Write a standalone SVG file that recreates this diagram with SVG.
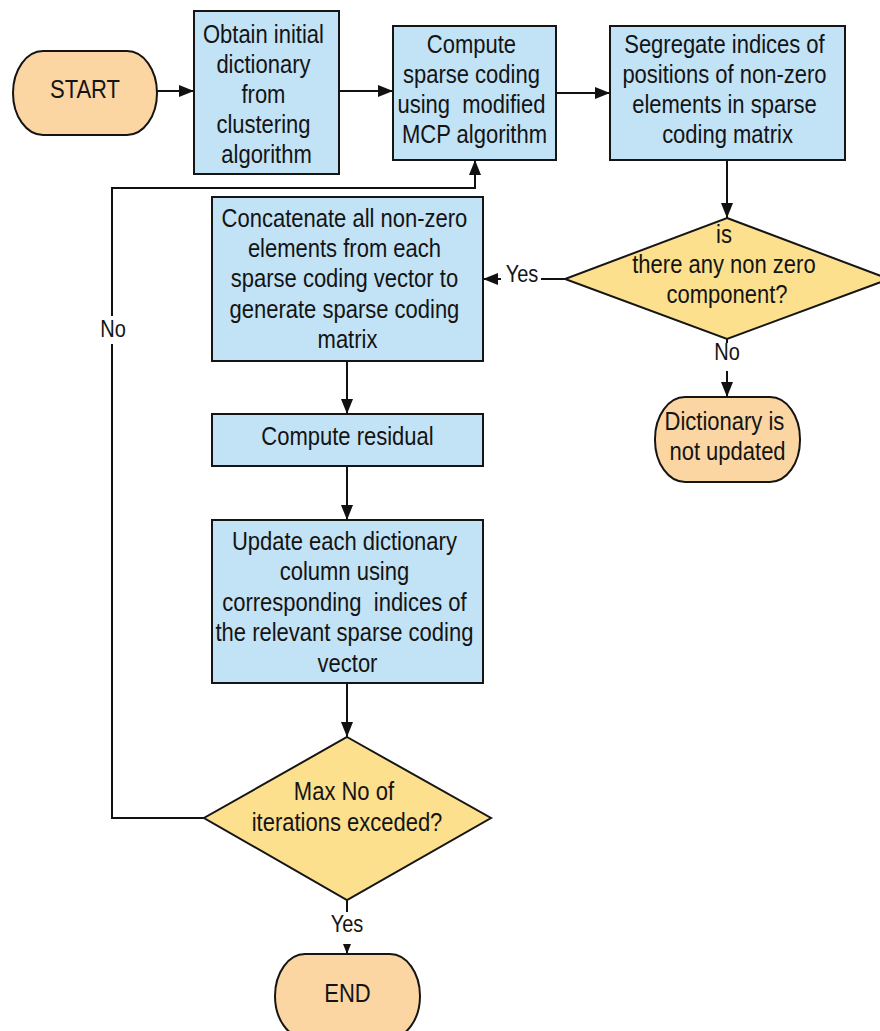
<svg xmlns="http://www.w3.org/2000/svg" width="880" height="1031" viewBox="0 0 880 1031">
  <defs>
    <marker id="arrow" viewBox="0 0 15 12" refX="15" refY="6" markerWidth="15" markerHeight="12" markerUnits="userSpaceOnUse" orient="auto">
      <path d="M0,0 L15,6 L0,12 Z" fill="#111"/>
    </marker>
    <style>
      .proc { fill: #c2e2f6; stroke: #151515; stroke-width: 2; }
      .term { fill: #fcd6a2; stroke: #151515; stroke-width: 2; }
      .dec  { fill: #fce08e; stroke: #151515; stroke-width: 2; }
      .edge { fill: none; stroke: #111; stroke-width: 2; }
      .lbg  { fill: #ffffff; }
      text  { font-family: "Liberation Sans", Arial, sans-serif; font-size: 22px; fill: #141414; text-anchor: middle; }
      .lbl  { font-size: 20px; }
    </style>
  </defs>

  <rect width="880" height="1031" fill="#ffffff"/>

  <!-- connectors -->
  <g id="connectors">
    <path class="edge" d="M157,91 L194,91" marker-end="url(#arrow)"/>
    <path class="edge" d="M339,91 L393,91" marker-end="url(#arrow)"/>
    <path class="edge" d="M556,93 L610,93" marker-end="url(#arrow)"/>
    <path class="edge" d="M727,160 L727,218" marker-end="url(#arrow)"/>
    <path class="edge" d="M565,279 L483,279" marker-end="url(#arrow)"/>
    <path class="edge" d="M727,339 L727,397" marker-end="url(#arrow)"/>
    <path class="edge" d="M347,361 L347,414" marker-end="url(#arrow)"/>
    <path class="edge" d="M347,466 L347,520" marker-end="url(#arrow)"/>
    <path class="edge" d="M347,683 L347,737" marker-end="url(#arrow)"/>
    <path class="edge" d="M204,818 L112,818 L112,188 L475,188 L475,160" marker-end="url(#arrow)"/>
    <path class="edge" d="M347,900 L347,954" marker-end="url(#arrow)"/>

    <!-- edge labels -->
    <rect class="lbg" x="501" y="262" width="40" height="28"/>
    <text class="lbl" transform="matrix(1 0 0 1.16 522 282)">Yes</text>
    <rect class="lbg" x="711" y="343" width="32" height="28"/>
    <text class="lbl" transform="matrix(1 0 0 1.16 727 360)">No</text>
    <rect class="lbg" x="97" y="316" width="32" height="28"/>
    <text class="lbl" transform="matrix(1 0 0 1.16 113 337)">No</text>
    <rect class="lbg" x="327" y="912" width="40" height="32"/>
    <text class="lbl" transform="matrix(1 0 0 1.16 347 932)">Yes</text>
  </g>

  <g id="start">
    <rect class="term" x="13" y="51" width="144" height="84" rx="30" ry="42"/>
    <text transform="matrix(1 0 0 1.16 85 98)">START</text>
  </g>

  <g id="init-dictionary">
    <rect class="proc" x="194" y="11" width="145" height="163"/>
    <text transform="matrix(1 0 0 1.16 266.5 43)">
      <tspan x="0" y="0">Obtain initial</tspan>
      <tspan x="0" dy="25.86">dictionary</tspan>
      <tspan x="0" dy="25.86">from</tspan>
      <tspan x="0" dy="25.86">clustering</tspan>
      <tspan x="0" dy="25.86">algorithm</tspan>
    </text>
  </g>

  <g id="sparse-coding">
    <rect class="proc" x="393" y="26" width="163" height="134"/>
    <text transform="matrix(1 0 0 1.16 474.5 53)">
      <tspan x="0" y="0">Compute</tspan>
      <tspan x="0" dy="25.86">sparse coding</tspan>
      <tspan x="0" dy="25.86" xml:space="preserve">using  modified</tspan>
      <tspan x="0" dy="25.86">MCP algorithm</tspan>
    </text>
  </g>

  <g id="segregate">
    <rect class="proc" x="610" y="26" width="235" height="134"/>
    <text transform="matrix(1 0 0 1.16 727.5 53)">
      <tspan x="0" y="0">Segregate indices of</tspan>
      <tspan x="0" dy="25.86">positions of non-zero</tspan>
      <tspan x="0" dy="25.86">elements in sparse</tspan>
      <tspan x="0" dy="25.86">coding matrix</tspan>
    </text>
  </g>

  <g id="nonzero-check">
    <polygon class="dec" points="727,218 889,279 727,339 565,279"/>
    <text transform="matrix(1 0 0 1.16 727 243)">
      <tspan x="0" y="0">is</tspan>
      <tspan x="0" dy="25.86">there any non zero</tspan>
      <tspan x="0" dy="25.86">component?</tspan>
    </text>
  </g>

  <g id="not-updated">
    <rect class="term" x="655" y="397" width="145" height="85" rx="30" ry="42"/>
    <text transform="matrix(1 0 0 1.16 727.5 430)">
      <tspan x="0" y="0">Dictionary is</tspan>
      <tspan x="0" dy="25.86">not updated</tspan>
    </text>
  </g>

  <g id="concatenate">
    <rect class="proc" x="212" y="197" width="271" height="164"/>
    <text transform="matrix(1 0 0 1.16 347.5 227)">
      <tspan x="0" y="0">Concatenate all non-zero</tspan>
      <tspan x="0" dy="26.03">elements from each</tspan>
      <tspan x="0" dy="26.03">sparse coding vector to</tspan>
      <tspan x="0" dy="26.03">generate sparse coding</tspan>
      <tspan x="0" dy="26.03">matrix</tspan>
    </text>
  </g>

  <g id="residual">
    <rect class="proc" x="212" y="414" width="271" height="52"/>
    <text transform="matrix(1 0 0 1.16 347.5 445)">Compute residual</text>
  </g>

  <g id="update-dictionary">
    <rect class="proc" x="212" y="520" width="271" height="163"/>
    <text transform="matrix(1 0 0 1.16 347.5 550)">
      <tspan x="0" y="0">Update each dictionary</tspan>
      <tspan x="0" dy="26.29">column using</tspan>
      <tspan x="0" dy="26.29" xml:space="preserve">corresponding  indices of</tspan>
      <tspan x="0" dy="26.29">the relevant sparse coding</tspan>
      <tspan x="0" dy="26.29">vector</tspan>
    </text>
  </g>

  <g id="iteration-check">
    <polygon class="dec" points="347,737 491,818 347,900 204,818"/>
    <text transform="matrix(1 0 0 1.16 347 800)">
      <tspan x="0" y="0">Max No of</tspan>
      <tspan x="0" dy="26.72">iterations exceded?</tspan>
    </text>
  </g>

  <g id="end">
    <rect class="term" x="275" y="954" width="145" height="84" rx="30" ry="42"/>
    <text transform="matrix(1 0 0 1.16 347.5 1002)">END</text>
  </g>
</svg>
